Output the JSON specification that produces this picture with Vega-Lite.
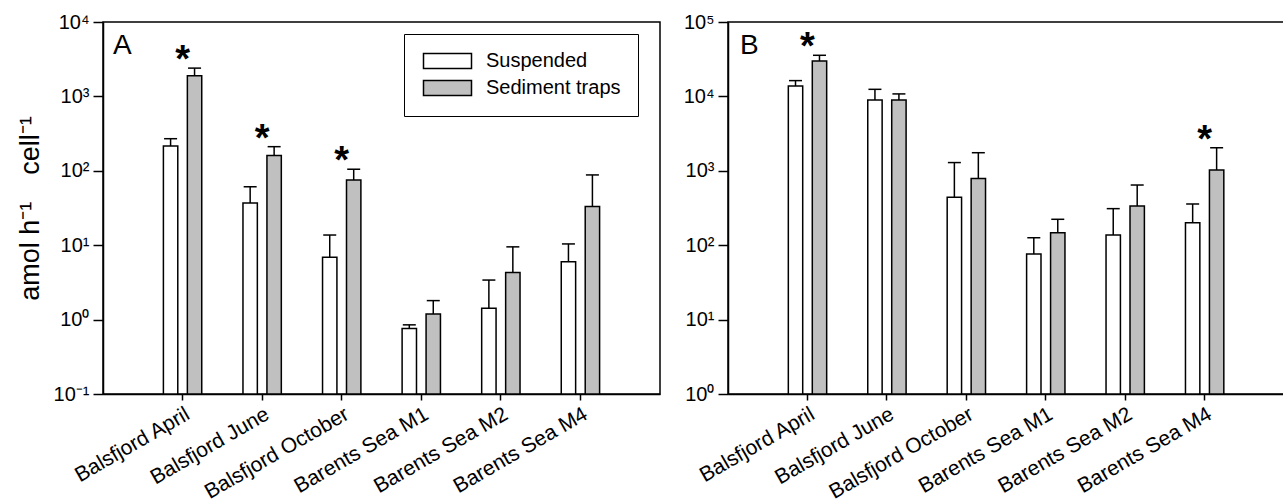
{
  "$schema": "https://vega.github.io/schema/vega-lite/v6.json",
  "background": "white",
  "padding": {"left": 15, "top": 11, "right": 1, "bottom": 0},
  "config": {
    "font": "Liberation Sans",
    "view": {"stroke": "black", "strokeWidth": 1.5},
    "axis": {"grid": false, "domainColor": "black", "domainWidth": 1.5, "tickColor": "black", "tickWidth": 1.5, "labelColor": "black", "titleColor": "black"},
    "title": {"color": "black"}
  },
  "datasets": {
    "rates": [
      {"panel": "A", "site": "Balsfjord April", "type": "Suspended", "value": 215, "hi": 270, "sig": false},
      {"panel": "A", "site": "Balsfjord April", "type": "Sediment traps", "value": 1900, "hi": 2400, "sig": true},
      {"panel": "A", "site": "Balsfjord June", "type": "Suspended", "value": 37, "hi": 61, "sig": false},
      {"panel": "A", "site": "Balsfjord June", "type": "Sediment traps", "value": 160, "hi": 211, "sig": true},
      {"panel": "A", "site": "Balsfjord October", "type": "Suspended", "value": 6.9, "hi": 13.7, "sig": false},
      {"panel": "A", "site": "Balsfjord October", "type": "Sediment traps", "value": 75, "hi": 105, "sig": true},
      {"panel": "A", "site": "Barents Sea M1", "type": "Suspended", "value": 0.76, "hi": 0.85, "sig": false},
      {"panel": "A", "site": "Barents Sea M1", "type": "Sediment traps", "value": 1.19, "hi": 1.8, "sig": false},
      {"panel": "A", "site": "Barents Sea M2", "type": "Suspended", "value": 1.42, "hi": 3.4, "sig": false},
      {"panel": "A", "site": "Barents Sea M2", "type": "Sediment traps", "value": 4.3, "hi": 9.5, "sig": false},
      {"panel": "A", "site": "Barents Sea M4", "type": "Suspended", "value": 6.0, "hi": 10.4, "sig": false},
      {"panel": "A", "site": "Barents Sea M4", "type": "Sediment traps", "value": 33, "hi": 88, "sig": false},
      {"panel": "B", "site": "Balsfjord April", "type": "Suspended", "value": 13800, "hi": 16300, "sig": false},
      {"panel": "B", "site": "Balsfjord April", "type": "Sediment traps", "value": 29900, "hi": 35700, "sig": true},
      {"panel": "B", "site": "Balsfjord June", "type": "Suspended", "value": 8950, "hi": 12450, "sig": false},
      {"panel": "B", "site": "Balsfjord June", "type": "Sediment traps", "value": 8950, "hi": 10800, "sig": false},
      {"panel": "B", "site": "Balsfjord October", "type": "Suspended", "value": 440, "hi": 1290, "sig": false},
      {"panel": "B", "site": "Balsfjord October", "type": "Sediment traps", "value": 790, "hi": 1750, "sig": false},
      {"panel": "B", "site": "Barents Sea M1", "type": "Suspended", "value": 76, "hi": 126, "sig": false},
      {"panel": "B", "site": "Barents Sea M1", "type": "Sediment traps", "value": 147, "hi": 223, "sig": false},
      {"panel": "B", "site": "Barents Sea M2", "type": "Suspended", "value": 137, "hi": 310, "sig": false},
      {"panel": "B", "site": "Barents Sea M2", "type": "Sediment traps", "value": 337, "hi": 644, "sig": false},
      {"panel": "B", "site": "Barents Sea M4", "type": "Suspended", "value": 201, "hi": 358, "sig": false},
      {"panel": "B", "site": "Barents Sea M4", "type": "Sediment traps", "value": 1025, "hi": 2040, "sig": true}
    ]
  },
  "data": {"name": "rates"},
  "spacing": 68,
  "bounds": "flush",
  "resolve": {"scale": {"color": "independent", "y": "independent"}, "legend": {"color": "independent"}},
  "hconcat": [
    {
      "width": 557,
      "height": 372,
      "title": {"text": "A", "anchor": "start", "fontSize": 28, "fontWeight": "normal", "offset": -70, "dx": 10, "baseline": "alphabetic", "frame": "group"},
      "transform": [{"filter": "datum.panel == 'A'"}],
      "encoding": {
        "x": {"field": "site", "type": "nominal", "title": null,
          "sort": ["Balsfjord April", "Balsfjord June", "Balsfjord October", "Barents Sea M1", "Barents Sea M2", "Barents Sea M4"],
          "scale": {"paddingInner": 0, "paddingOuter": 0.5},
          "axis": {"labelAngle": -30, "labelAlign": "right", "labelBaseline": "top", "labelFontSize": 21, "tickSize": 6, "labelPadding": 3, "labelDx": 3}}
      },
      "layer": [
        {
          "mark": {"type": "bar", "stroke": "black", "strokeWidth": 1.5},
          "encoding": {
            "xOffset": {"field": "type", "sort": ["Suspended", "Sediment traps"], "scale": {"paddingInner": 0.4, "paddingOuter": 0.86}},
            "y": {"field": "value", "type": "quantitative", "stack": null, "scale": {"type": "log", "domain": [0.1, 10000], "nice": false},
              "axis": {"values": [0.1, 1, 10, 100, 1000, 10000], "labelExpr": "'10' + ['⁻¹','⁰','¹','²','³','⁴','⁵'][round(log(datum.value)/LN10)+1]", "labelFontSize": 20, "tickSize": 10, "labelPadding": 4, "title": "amol h⁻¹\u2003cell⁻¹", "titleFontSize": 27, "titleFontWeight": "normal", "titlePadding": 9}},
            "color": {"field": "type", "type": "nominal", "sort": ["Suspended", "Sediment traps"],
              "scale": {"domain": ["Suspended", "Sediment traps"], "range": ["white", "#c0c0c0"]},
              "legend": {"title": null, "orient": "none", "legendX": 301, "legendY": 12, "strokeColor": "black", "fillColor": "white", "padding": 17, "labelFontSize": 20, "labelColor": "black", "labelOffset": 45, "symbolType": "M-1,-1H5.4V1H-1Z", "symbolSize": 225, "symbolStrokeColor": "black", "symbolStrokeWidth": 1.5, "rowPadding": 5}}
          }
        },
        {
          "mark": {"type": "rule", "color": "black", "strokeWidth": 1.5},
          "encoding": {
            "xOffset": {"field": "type", "sort": ["Suspended", "Sediment traps"]},
            "y": {"field": "value", "type": "quantitative"},
            "y2": {"field": "hi"}
          }
        },
        {
          "mark": {"type": "tick", "color": "black", "size": 13, "thickness": 1.5, "opacity": 1},
          "encoding": {
            "xOffset": {"field": "type", "sort": ["Suspended", "Sediment traps"]},
            "y": {"field": "hi", "type": "quantitative"}
          }
        },
        {
          "transform": [{"filter": "datum.sig"}],
          "mark": {"type": "text", "text": "*", "fontSize": 38, "fontWeight": "bold", "color": "black", "baseline": "alphabetic", "dy": 4},
          "encoding": {"y": {"field": "hi", "type": "quantitative"}}
        }
      ]
    },
    {
      "width": 556,
      "height": 372,
      "title": {"text": "B", "anchor": "start", "fontSize": 28, "fontWeight": "normal", "offset": -70, "dx": 12, "baseline": "alphabetic", "frame": "group"},
      "transform": [{"filter": "datum.panel == 'B'"}],
      "encoding": {
        "x": {"field": "site", "type": "nominal", "title": null,
          "sort": ["Balsfjord April", "Balsfjord June", "Balsfjord October", "Barents Sea M1", "Barents Sea M2", "Barents Sea M4"],
          "scale": {"paddingInner": 0, "paddingOuter": 0.5},
          "axis": {"labelAngle": -30, "labelAlign": "right", "labelBaseline": "top", "labelFontSize": 21, "tickSize": 6, "labelPadding": 3, "labelDx": 3}}
      },
      "layer": [
        {
          "mark": {"type": "bar", "stroke": "black", "strokeWidth": 1.5},
          "encoding": {
            "xOffset": {"field": "type", "sort": ["Suspended", "Sediment traps"], "scale": {"paddingInner": 0.4, "paddingOuter": 0.86}},
            "y": {"field": "value", "type": "quantitative", "stack": null, "scale": {"type": "log", "domain": [1, 100000], "nice": false},
              "axis": {"values": [1, 10, 100, 1000, 10000, 100000], "labelExpr": "'10' + ['⁻¹','⁰','¹','²','³','⁴','⁵'][round(log(datum.value)/LN10)+1]", "labelFontSize": 20, "tickSize": 10, "labelPadding": 4, "title": null}},
            "color": {"field": "type", "type": "nominal", "sort": ["Suspended", "Sediment traps"],
              "scale": {"domain": ["Suspended", "Sediment traps"], "range": ["white", "#c0c0c0"]},
              "legend": null}
          }
        },
        {
          "mark": {"type": "rule", "color": "black", "strokeWidth": 1.5},
          "encoding": {
            "xOffset": {"field": "type", "sort": ["Suspended", "Sediment traps"]},
            "y": {"field": "value", "type": "quantitative"},
            "y2": {"field": "hi"}
          }
        },
        {
          "mark": {"type": "tick", "color": "black", "size": 13, "thickness": 1.5, "opacity": 1},
          "encoding": {
            "xOffset": {"field": "type", "sort": ["Suspended", "Sediment traps"]},
            "y": {"field": "hi", "type": "quantitative"}
          }
        },
        {
          "transform": [{"filter": "datum.sig"}],
          "mark": {"type": "text", "text": "*", "fontSize": 38, "fontWeight": "bold", "color": "black", "baseline": "alphabetic", "dy": 4},
          "encoding": {"y": {"field": "hi", "type": "quantitative"}}
        }
      ]
    }
  ]
}
